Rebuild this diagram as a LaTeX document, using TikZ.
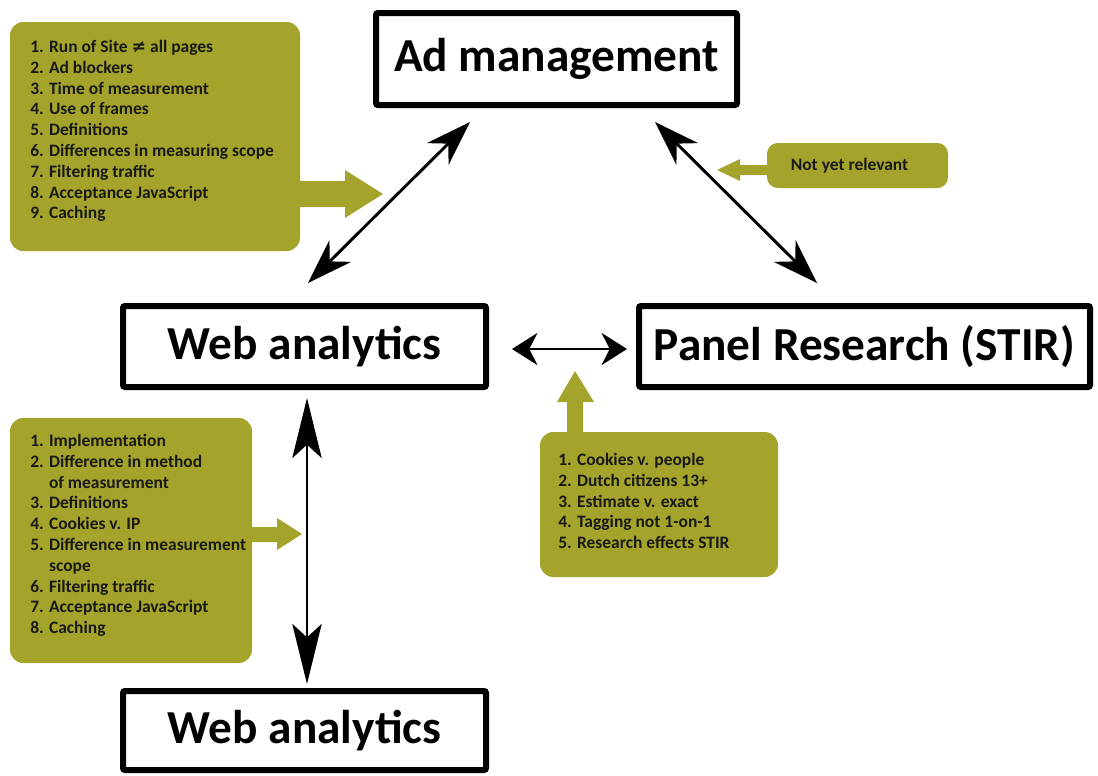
\documentclass[tikz,border=0pt]{standalone}
\usepackage{fontspec}
\setmainfont{Carlito}
\newfontfamily\symf{DejaVu Sans}
\usetikzlibrary{arrows.meta,calc}
\definecolor{olivebox}{RGB}{164,164,44}
\begin{document}
\begin{tikzpicture}[x=0.75pt,y=-0.75pt,
  mainbox/.style={draw, line width=4.5pt, rounded corners=1.5pt, inner sep=0pt,
    font=\fontsize{35.5}{42}\selectfont\bfseries},
  gbox/.style={fill=olivebox, rounded corners=10pt, inner sep=0pt},
  gtext/.style={anchor=north west, inner sep=0pt, align=left, text=black!90,
    font=\fontsize{13.1}{15.6}\selectfont\bfseries},
  diagarrow/.style={line width=2.2pt, {Stealth[length=34pt,width=23pt,inset=11pt]}-{Stealth[length=34pt,width=23pt,inset=11pt]}},
  harrow/.style={line width=2pt, {Stealth[length=19pt,width=24pt,inset=6pt]}-{Stealth[length=19pt,width=24pt,inset=6pt]}},
  varrow/.style={line width=2.2pt, {Stealth[length=45pt,width=22pt,inset=10pt]}-{Stealth[length=45pt,width=22pt,inset=10pt]}},
  garrow/.style={fill=olivebox}
]
\useasboundingbox (0,0) rectangle (1098,775);

% main boxes
\node[mainbox, minimum width={361*0.75pt}, minimum height={92*0.75pt}] (ad) at (556.5,59) {Ad management};
\node[mainbox, minimum width={363*0.75pt}, minimum height={81*0.75pt}] (web) at (304.5,346.5) {Web analytics};
\node[mainbox, minimum width={451*0.75pt}, minimum height={81*0.75pt}] (panel) at (864.5,346.5) {Panel Research (STIR)};
\node[mainbox, minimum width={363*0.75pt}, minimum height={79*0.75pt}] (web2) at (304.5,730.5) {Web analytics};

% green boxes
\node[gbox, minimum width={290*0.75pt}, minimum height={229*0.75pt}] (g1) at (155,136.5) {};
\node[gtext] (t1) at (30,40) {1. Run of Site {\symf\bfseries ≠} all pages\\
2. Ad blockers\\
3. Time of measurement\\
4. Use of frames\\
5. Definitions\\
6. Differences in measuring scope\\
7. Filtering traffic\\
8. Acceptance JavaScript\\
9. Caching};

\node[gbox, minimum width={242*0.75pt}, minimum height={245*0.75pt}] (g2) at (131,540.5) {};
\node[gtext] (t2) at (30,434) {1. Implementation\\
2. Difference in method\\
\phantom{2. }of measurement\\
3. Definitions\\
4. Cookies v. IP\\
5. Difference in measurement\\
\phantom{5. }scope\\
6. Filtering traffic\\
7. Acceptance JavaScript\\
8. Caching};

\node[gbox, minimum width={238*0.75pt}, minimum height={145*0.75pt}] (g3) at (659,504.5) {};
\node[gtext] (t3) at (558,453) {1. Cookies v. people\\
2. Dutch citizens 13+\\
3. Estimate v. exact\\
4. Tagging not 1-on-1\\
5. Research effects STIR};

\node[gbox, rounded corners=8pt, minimum width={181*0.75pt}, minimum height={45*0.75pt}] (g4) at (857.5,165.5) {};
\node[inner sep=0pt, text=black!90, font=\fontsize{13.1}{15.6}\selectfont\bfseries] (t4) at (849.5,166) {Not yet relevant};

% green block arrows
\fill[garrow] (296,181) -- (345,181) -- (345,170) -- (383,194) -- (345,218) -- (345,207) -- (296,207) -- cycle;
\fill[garrow] (770,165) -- (740,165) -- (740,159) -- (717,170) -- (740,181) -- (740,175) -- (770,175) -- cycle;
\fill[garrow] (248,527) -- (277,527) -- (277,518) -- (302,534) -- (277,550) -- (277,542) -- (248,542) -- cycle;
\fill[garrow] (567,436) -- (567,402) -- (557,402) -- (575,371) -- (594,402) -- (583,402) -- (583,436) -- cycle;

% black connectors
\draw[diagarrow] ($(ad.south west)+(97,14)$) -- ($(web.north)+(3.5,-20)$);
\draw[diagarrow] ($(ad.south east)+(-85,14)$) -- ($(panel.north west)+(181,-20)$);
\draw[harrow] ($(web.east)+(23,2.5)$) -- ($(panel.west)+(-9,2.5)$);
\draw[varrow] ($(web.south)+(2.5,8)$) -- ($(web2.north)+(2.5,-4)$);
\end{tikzpicture}
\end{document}
